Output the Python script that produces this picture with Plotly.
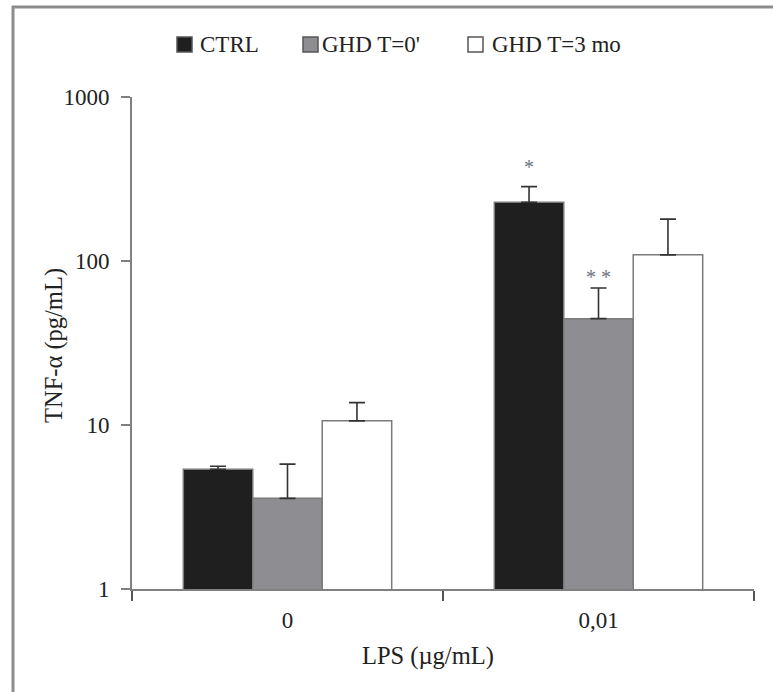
import plotly.graph_objects as go

categories = ["0", "0,01"]
series_names = ["CTRL", "GHD T=0'", "GHD T=3 mo"]
ctrl_vals = [5.37, 228]
ctrl_err = [0.23, 56]
ghd0_vals = [3.57, 44.5]
ghd0_err = [2.2, 24]
ghd3_vals = [10.6, 109]
ghd3_err = [3.1, 71]
y_tickvals = [1, 10, 100, 1000]
y_ticktext = ["1", "10", "100", "1000"]

FONT = "Liberation Serif, Times New Roman, serif"
fills = ["#1f1f1f", "#8e8e92", "#ffffff"]
edge = "#7a7a7a"

# pixel geometry helpers
L, R, T, B = 132, 754, 97, 589
W, H = 773, 692
def px(x):
    return (x - L) / (R - L)
def py(y):
    return (B - y) / (B - T)

fig = go.Figure()
for name, vals, errs, col in zip(series_names,
                                 [ctrl_vals, ghd0_vals, ghd3_vals],
                                 [ctrl_err, ghd0_err, ghd3_err], fills):
    fig.add_trace(go.Bar(
        x=categories, y=vals, name=name,
        marker=dict(color=col, line=dict(color=edge, width=1.5)),
        error_y=dict(type="data", array=errs, symmetric=False, arrayminus=[0, 0],
                     color="#333333", thickness=1.6, width=8),
        showlegend=False,
    ))

fig.update_layout(
    width=W, height=H,
    margin=dict(l=L, r=W - R, t=T, b=H - B),
    plot_bgcolor="white", paper_bgcolor="white",
    barmode="group", bargap=0.33, bargroupgap=0,
    font=dict(family=FONT, size=23, color="#222222"),
    xaxis=dict(
        type="category", showline=True, linecolor="#808080", linewidth=2,
        ticks="outside", tickson="boundaries", ticklen=10, tickwidth=2, tickcolor="#555555",
        showgrid=False, zeroline=False,
        tickfont=dict(family=FONT, size=23, color="#222222"),
        ticklabelstandoff=9,
    ),
    yaxis=dict(
        type="log", range=[0, 3], tickvals=y_tickvals, ticktext=y_ticktext,
        showline=True, linecolor="#808080", linewidth=2,
        ticks="outside", ticklen=9, tickwidth=2, tickcolor="#808080",
        showgrid=False, zeroline=False,
        tickfont=dict(family=FONT, size=23, color="#222222"),
        ticklabelstandoff=7,
    ),
)

annotations = []
# axis titles
annotations.append(dict(text="TNF-α (pg/mL)", xref="paper", yref="paper",
                        x=px(54), y=py(346), xanchor="center", yanchor="middle",
                        textangle=-90, showarrow=False,
                        font=dict(family=FONT, size=24.5, color="#222222")))
annotations.append(dict(text="LPS (µg/mL)", xref="paper", yref="paper",
                        x=px(428), y=py(656), xanchor="center", yanchor="middle",
                        showarrow=False,
                        font=dict(family=FONT, size=24.5, color="#222222")))
# significance marks
annotations.append(dict(text="*", x=categories[1], y=2.453, xref="x", yref="y",
                        xshift=-69.5, yshift=20, showarrow=False,
                        font=dict(family=FONT, size=20, color="#6e727c")))
annotations.append(dict(text="* *", x=categories[1], y=1.835, xref="x", yref="y",
                        xshift=0, yshift=11, showarrow=False,
                        font=dict(family=FONT, size=20, color="#6e727c")))

# legend (manual)
legend_items = [(177, 198), (303, 320), (468, 490)]
shapes = []
for (sx, tx), name, col in zip(legend_items, series_names, fills):
    shapes.append(dict(type="rect", xref="paper", yref="paper",
                       x0=px(sx), x1=px(sx + 15), y0=py(52), y1=py(37),
                       fillcolor=col, line=dict(color="#555555", width=1.5)))
    annotations.append(dict(text=name, xref="paper", yref="paper",
                            x=px(tx), y=py(45), xanchor="left", yanchor="middle",
                            showarrow=False,
                            font=dict(family=FONT, size=23, color="#222222")))

# outer frame (top and left edges visible)
shapes.append(dict(type="line", xref="paper", yref="paper",
                   x0=px(12), x1=px(790), y0=py(7), y1=py(7),
                   line=dict(color="#8c8c8c", width=3)))
shapes.append(dict(type="line", xref="paper", yref="paper",
                   x0=px(13), x1=px(13), y0=py(6), y1=py(720),
                   line=dict(color="#8c8c8c", width=3)))

fig.update_layout(annotations=annotations, shapes=shapes)
fig.write_html("out.html")
